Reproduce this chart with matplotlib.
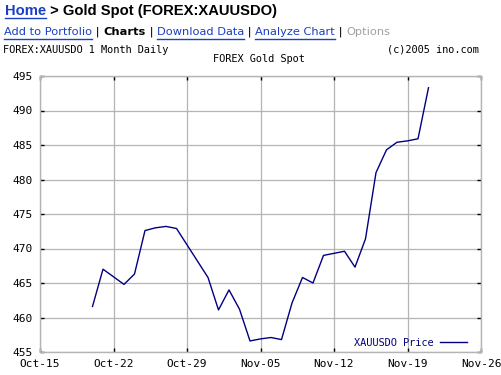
import numpy as np
import pandas as pd
import matplotlib
matplotlib.use("Agg")
import matplotlib.pyplot as plt
import matplotlib.dates as mdates

# daily gold spot closes
dates = pd.to_datetime([
    "2005-10-20", "2005-10-21", "2005-10-23", "2005-10-24", "2005-10-25",
    "2005-10-26", "2005-10-27", "2005-10-28", "2005-10-31", "2005-11-01",
    "2005-11-02", "2005-11-03", "2005-11-04", "2005-11-05", "2005-11-06",
    "2005-11-07", "2005-11-08", "2005-11-09", "2005-11-10", "2005-11-11",
    "2005-11-12", "2005-11-13", "2005-11-14", "2005-11-15", "2005-11-16",
    "2005-11-17", "2005-11-18", "2005-11-19", "2005-11-20", "2005-11-21",
])
prices = [
    461.6, 467.0, 464.8, 466.3, 472.6,
    473.0, 473.2, 472.9, 465.8, 461.1,
    464.0, 461.2, 456.6, 456.9, 457.1,
    456.8, 462.1, 465.8, 465.0, 469.0,
    469.3, 469.6, 467.3, 471.4, 481.0,
    484.3, 485.4, 485.6, 485.9, 493.3,
]
x_ticks = pd.to_datetime(["2005-10-15", "2005-10-22", "2005-10-29", "2005-11-05",
                          "2005-11-12", "2005-11-19", "2005-11-26"])
y_ticks = [455, 460, 465, 470, 475, 480, 485, 490, 495]

navy = "#000080"
grey = "#b4b4b4"
link = "#1a3fc4"
mono = "DejaVu Sans Mono"

fig = plt.figure(figsize=(5.01, 3.75), dpi=100)
fig.patch.set_facecolor("white")
fig.canvas.draw()
renderer = fig.canvas.get_renderer()


def text_run(parts, x0, y, size, family):
    # draw pieces of text one after another, underlining links
    xpos = x0
    for txt, col, wt, under in parts:
        t = fig.text(xpos / 501, 1 - y / 375, txt, fontsize=size, color=col, fontweight=wt,
                     family=family, va="center", ha="left")
        w = t.get_window_extent(renderer).width
        if under:
            fig.add_artist(plt.Line2D([xpos / 501, (xpos + w) / 501], [1 - (y + 7) / 375] * 2,
                                      color=col, lw=1))
        xpos += w


# page header
text_run([("Home", link, "bold", True),
          (" > Gold Spot (FOREX:XAUUSDO)", "black", "bold", False)],
         5, 11, 10.6, "Liberation Sans")
text_run([("Add to Portfolio", link, "normal", True), (" | ", "black", "normal", False),
          ("Charts", "black", "bold", False), (" | ", "black", "normal", False),
          ("Download Data", link, "normal", True), (" | ", "black", "normal", False),
          ("Analyze Chart", link, "normal", True), (" | ", "black", "normal", False),
          ("Options", "#a0a0a0", "normal", False)],
         4, 32, 8.2, "DejaVu Sans")

fig.text(3 / 501, 1 - 50 / 375, "FOREX:XAUUSDO 1 Month Daily", fontsize=7.4, family=mono,
         va="center", ha="left")
fig.text(479 / 501, 1 - 50 / 375, "(c)2005 ino.com", fontsize=7.4, family=mono,
         va="center", ha="right")
fig.text(259 / 501, 1 - 59 / 375, "FOREX Gold Spot", fontsize=7.4, family=mono,
         va="center", ha="center")

ax = fig.add_axes([40 / 501, 23 / 375, 441 / 501, 276 / 375])
ax.plot(dates, prices, color=navy, lw=1, label="XAUUSDO Price")
ax.set_xlim(x_ticks[0], x_ticks[-1])
ax.set_ylim(455, 495)
ax.set_xticks(x_ticks)
ax.xaxis.set_major_formatter(mdates.DateFormatter("%b-%d"))
ax.set_yticks(y_ticks)
ax.grid(True, color=grey, lw=0.9)
for s in ax.spines.values():
    s.set_color(grey)
    s.set_linewidth(1)
ax.tick_params(direction="in", length=3, width=1, color="black", top=True, right=True,
               labelsize=8)
ax.tick_params(axis="x", pad=5)
ax.tick_params(axis="y", pad=5)
for lab in ax.get_xticklabels() + ax.get_yticklabels():
    lab.set_family(mono)
leg = ax.legend(loc="lower right", bbox_to_anchor=(0.982, -0.007), frameon=False,
                markerfirst=False, handlelength=2.6, borderaxespad=0.2, handletextpad=0.6,
                prop={"family": mono, "size": 7.4})
for t in leg.get_texts():
    t.set_color(navy)

fig.savefig("out.png", dpi=100)
